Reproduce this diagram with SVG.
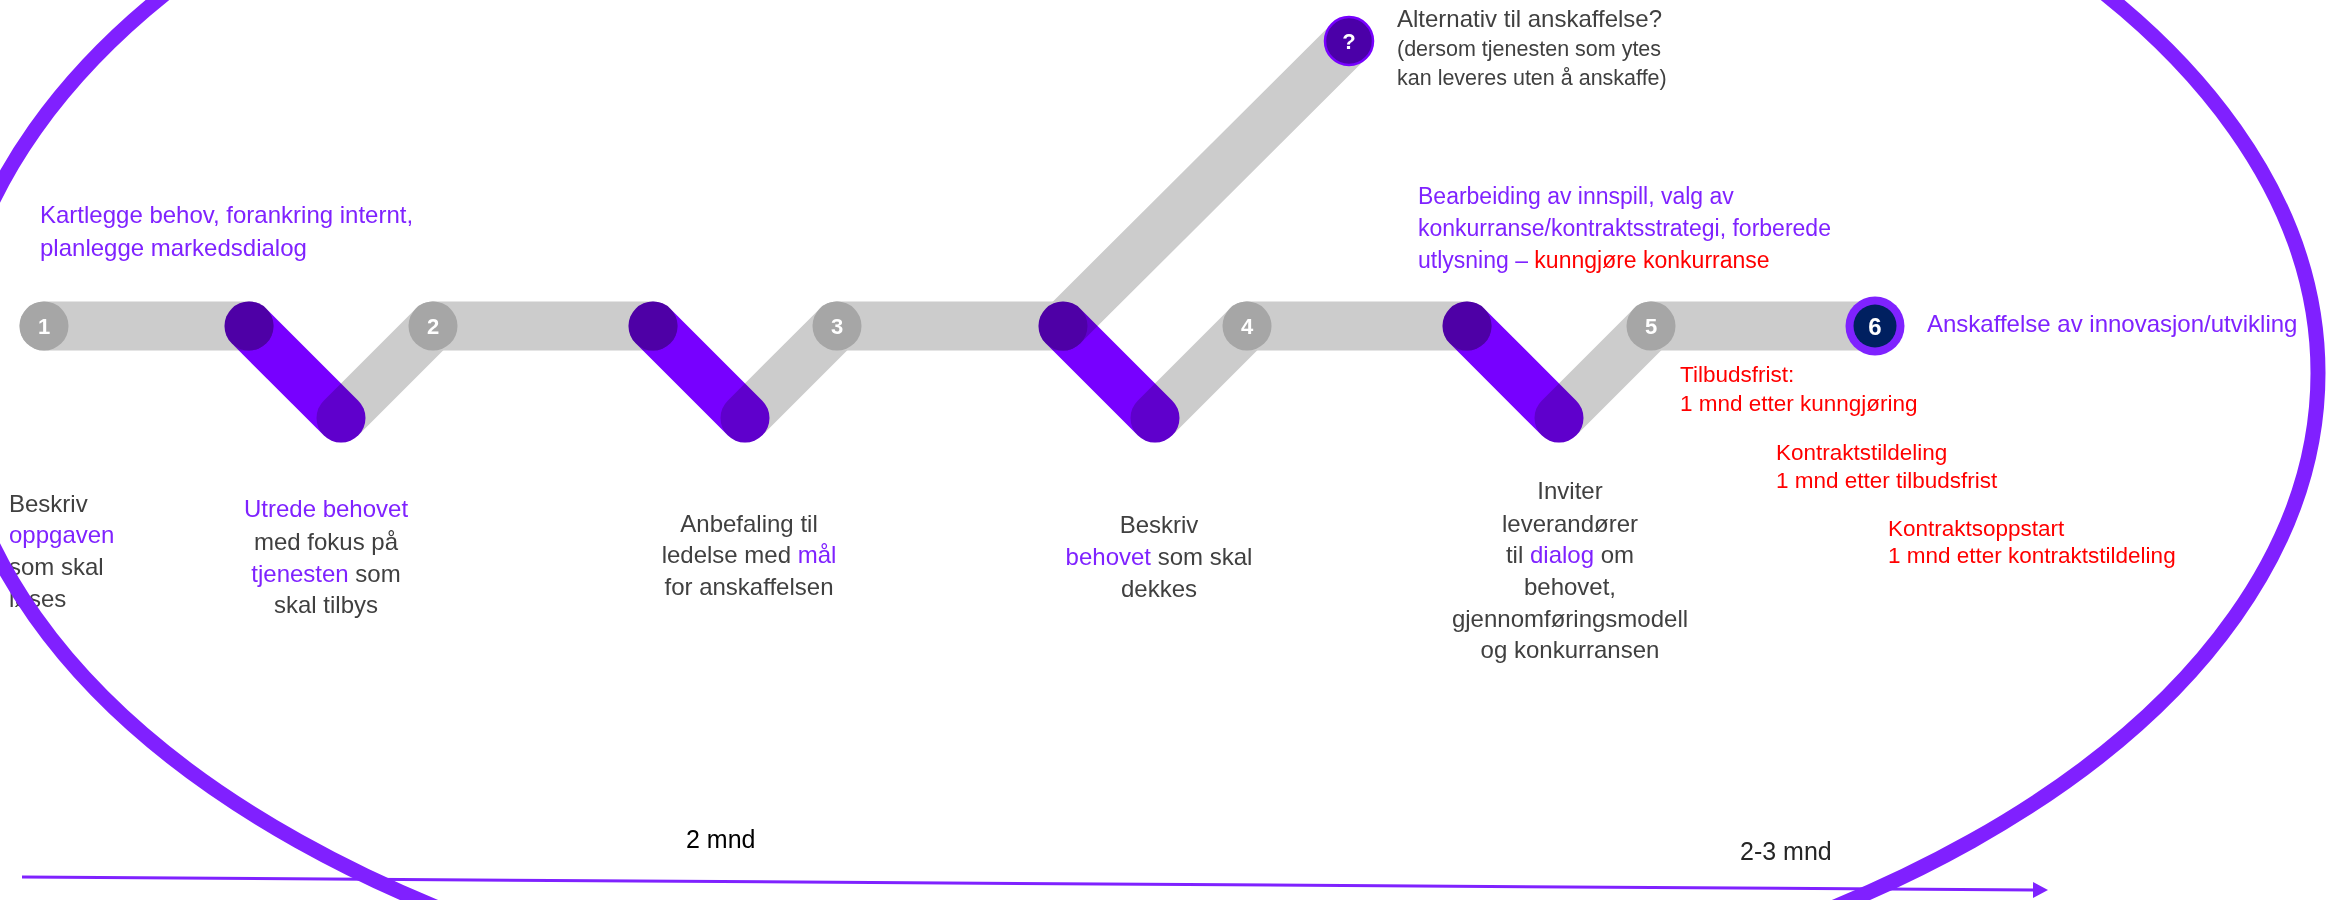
<svg xmlns="http://www.w3.org/2000/svg" width="2331" height="900" viewBox="0 0 2331 900">
<defs>
<style>
.band{stroke:#CCCCCC;stroke-width:49;stroke-linecap:round;fill:none}
.pband{stroke:#7700FF;stroke-width:49;stroke-linecap:round;fill:none;mix-blend-mode:multiply}
.joint{fill:#A6A6A6}
.node{fill:#A6A6A6}
.num{font-family:"Liberation Sans",Arial,sans-serif;font-weight:bold;font-size:22px;fill:#FFFFFF;text-anchor:middle}
.t{font-family:"Liberation Sans",Arial,sans-serif;font-size:24px;fill:#404040}
.c{text-anchor:middle}
.p{fill:#7F22FF}
.r{fill:#FF0000}
.h{font-family:"Liberation Sans",Arial,sans-serif;font-size:24px;fill:#7F22FF}
.red{font-family:"Liberation Sans",Arial,sans-serif;font-size:22.5px;fill:#FF0000}
</style>
<marker id="arr" viewBox="0 0 15 16" refX="0" refY="8" markerWidth="15" markerHeight="16" markerUnits="userSpaceOnUse" orient="auto">
<path d="M0,0 L15,8 L0,16 Z" fill="#7F22FF"/>
</marker>
</defs>
<rect width="2331" height="900" fill="#FFFFFF"/>

<g id="connectors">
<line class="band" x1="44" y1="326" x2="249" y2="326"/>
<line class="band" x1="341" y1="418" x2="433" y2="326"/>
<line class="band" x1="433" y1="326" x2="653" y2="326"/>
<line class="band" x1="745" y1="418" x2="837" y2="326"/>
<line class="band" x1="837" y1="326" x2="1063" y2="326"/>
<line class="band" x1="1063" y1="326" x2="1349" y2="41"/>
<line class="band" x1="1155" y1="418" x2="1247" y2="326"/>
<line class="band" x1="1247" y1="326" x2="1467" y2="326"/>
<line class="band" x1="1559" y1="418" x2="1651" y2="326"/>
<line class="band" x1="1651" y1="326" x2="1875" y2="326"/>
<circle class="joint" cx="249" cy="326" r="24.5"/>
<circle class="joint" cx="653" cy="326" r="24.5"/>
<circle class="joint" cx="1063" cy="326" r="24.5"/>
<circle class="joint" cx="1467" cy="326" r="24.5"/>
<line class="pband" x1="249" y1="326" x2="341" y2="418"/>
<line class="pband" x1="653" y1="326" x2="745" y2="418"/>
<line class="pband" x1="1063" y1="326" x2="1155" y2="418"/>
<line class="pband" x1="1467" y1="326" x2="1559" y2="418"/>
</g>

<g id="node-1"><circle class="node" cx="44" cy="326" r="24.5"/><text class="num" x="44" y="334">1</text></g>
<g id="node-2"><circle class="node" cx="433" cy="326" r="24.5"/><text class="num" x="433" y="334">2</text></g>
<g id="node-3"><circle class="node" cx="837" cy="326" r="24.5"/><text class="num" x="837" y="334">3</text></g>
<g id="node-4"><circle class="node" cx="1247" cy="326" r="24.5"/><text class="num" x="1247" y="334">4</text></g>
<g id="node-5"><circle class="node" cx="1651" cy="326" r="24.5"/><text class="num" x="1651" y="334">5</text></g>
<g id="node-6"><circle cx="1875" cy="326" r="29.5" fill="#7F22FF"/><circle cx="1875" cy="326" r="21.5" fill="#002060"/><text class="num" x="1875" y="335" style="font-size:24px">6</text></g>
<g id="node-q"><circle cx="1349" cy="41" r="24" fill="#4B00A8" stroke="#7700FF" stroke-width="2.5"/><text class="num" x="1349" y="49">?</text></g>

<g id="label-alternativ">
<text class="t" x="1397" y="27">Alternativ til anskaffelse?</text>
<text class="t" x="1397" y="56" style="font-size:21.5px">(dersom tjenesten som ytes</text>
<text class="t" x="1397" y="85" style="font-size:21.5px">kan leveres uten å anskaffe)</text>
</g>

<g id="label-kartlegge">
<text class="h" x="40" y="223">Kartlegge behov, forankring internt,</text>
<text class="h" x="40" y="256">planlegge markedsdialog</text>
</g>

<g id="label-bearbeiding">
<text class="h" x="1418" y="204" style="font-size:23px">Bearbeiding av innspill, valg av</text>
<text class="h" x="1418" y="236" style="font-size:23px">konkurranse/kontraktsstrategi, forberede</text>
<text class="h" x="1418" y="268" style="font-size:23px">utlysning – <tspan class="r">kunngjøre konkurranse</tspan></text>
</g>

<g id="label-anskaffelse">
<text class="h" x="1927" y="332">Anskaffelse av innovasjon/utvikling</text>
</g>

<g id="label-frister">
<text class="red" x="1680" y="382">Tilbudsfrist:</text>
<text class="red" x="1680" y="411">1 mnd etter kunngjøring</text>
<text class="red" x="1776" y="460">Kontraktstildeling</text>
<text class="red" x="1776" y="488">1 mnd etter tilbudsfrist</text>
<text class="red" x="1888" y="536">Kontraktsoppstart</text>
<text class="red" x="1888" y="563">1 mnd etter kontraktstildeling</text>
</g>

<g id="label-1">
<text class="t" x="9" y="512">Beskriv</text>
<text class="t p" x="9" y="543">oppgaven</text>
<text class="t" x="9" y="575">som skal</text>
<text class="t" x="9" y="607">løses</text>
</g>
<g id="label-2">
<text class="t c p" x="326" y="517">Utrede behovet</text>
<text class="t c" x="326" y="550">med fokus på</text>
<text class="t c" x="326" y="582"><tspan class="p">tjenesten</tspan> som</text>
<text class="t c" x="326" y="613">skal tilbys</text>
</g>
<g id="label-3">
<text class="t c" x="749" y="532">Anbefaling til</text>
<text class="t c" x="749" y="563">ledelse med <tspan class="p">mål</tspan></text>
<text class="t c" x="749" y="595">for anskaffelsen</text>
</g>
<g id="label-4">
<text class="t c" x="1159" y="533">Beskriv</text>
<text class="t c" x="1159" y="565"><tspan class="p">behovet</tspan> som skal</text>
<text class="t c" x="1159" y="597">dekkes</text>
</g>
<g id="label-5">
<text class="t c" x="1570" y="499">Inviter</text>
<text class="t c" x="1570" y="532">leverandører</text>
<text class="t c" x="1570" y="563">til <tspan class="p">dialog</tspan> om</text>
<text class="t c" x="1570" y="595">behovet,</text>
<text class="t c" x="1570" y="627">gjennomføringsmodell</text>
<text class="t c" x="1570" y="658">og konkurransen</text>
</g>

<g id="timeline">
<line x1="22" y1="877" x2="2033" y2="890" stroke="#7F22FF" stroke-width="3" marker-end="url(#arr)"/>
<text class="t" x="686" y="848" style="font-size:25px;fill:#000000">2 mnd</text>
<text class="t" x="1740" y="860" style="font-size:25px;fill:#262626">2-3 mnd</text>
</g>

<g id="frame">
<ellipse cx="1135" cy="373" rx="1183" ry="662" fill="none" stroke="#8020FF" stroke-width="15"/>
</g>
</svg>
